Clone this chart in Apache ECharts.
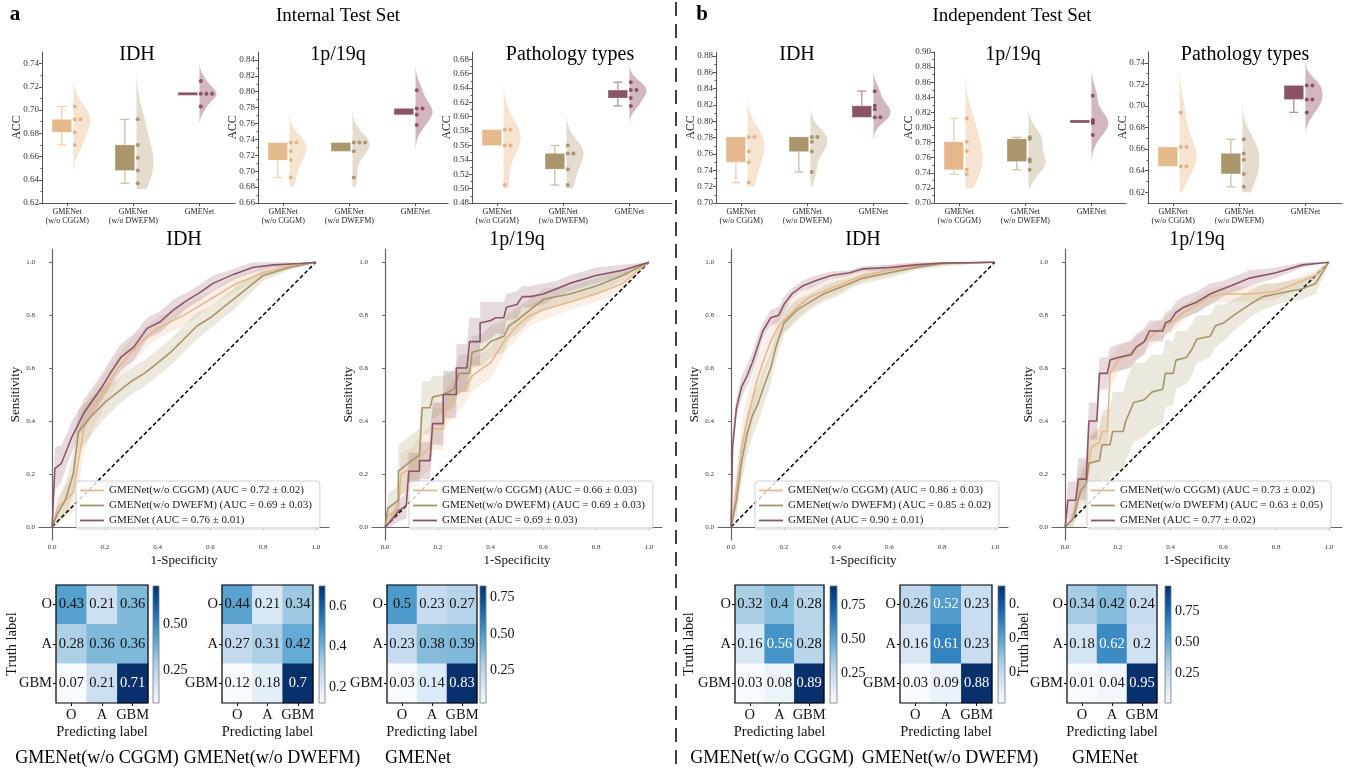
<!DOCTYPE html>
<html><head><meta charset="utf-8">
<script src="https://cdn.jsdelivr.net/npm/echarts@6/dist/echarts.min.js"></script>
<style>html,body{margin:0;padding:0;background:#fff}#c{width:1347px;height:772px}</style>
</head><body><div id="c"></div>
<script>
// ================= DATA =================
const accGroups = ['GMENet\n(w/o CGGM)', 'GMENet\n(w/o DWEFM)', 'GMENet'];
// ACC per fold (dots), box stats [whiskerLow, q1, q3, whiskerHigh], violin extent [low, high]
const intIDH_dots = [[0.670,0.681,0.692,0.692,0.703],[0.637,0.648,0.659,0.670,0.692],[0.703,0.714,0.714,0.714,0.725]];
const intIDH_box = [[0.670,0.681,0.692,0.703],[0.637,0.648,0.670,0.692],[0.714,0.714,0.714,0.714]];
const intIDH_violin = [[0.647,0.727],[0.632,0.733],[0.689,0.740]];
const intIDH_ticks = [0.62,0.64,0.66,0.68,0.70,0.72,0.74];

const int1p_dots = [[0.692,0.714,0.725,0.736,0.736],[0.692,0.725,0.736,0.736,0.736],[0.758,0.771,0.779,0.779,0.802]];
const int1p_box = [[0.692,0.714,0.736,0.736],[0.725,0.725,0.736,0.736],[0.771,0.771,0.779,0.779]];
const int1p_violin = [[0.680,0.773],[0.680,0.776],[0.728,0.832]];
const int1p_ticks = [0.66,0.68,0.70,0.72,0.74,0.76,0.78,0.80,0.82,0.84];

const intPat_dots = [[0.505,0.560,0.560,0.582,0.582],[0.505,0.527,0.549,0.549,0.560],[0.615,0.626,0.637,0.637,0.648]];
const intPat_box = [[0.560,0.560,0.582,0.582],[0.505,0.527,0.549,0.560],[0.615,0.626,0.637,0.648]];
const intPat_violin = [[0.500,0.645],[0.500,0.602],[0.593,0.672]];
const intPat_ticks = [0.48,0.50,0.52,0.54,0.56,0.58,0.60,0.62,0.64,0.66,0.68];

const indIDH_dots = [[0.725,0.750,0.763,0.781,0.781],[0.738,0.763,0.775,0.781,0.781],[0.805,0.805,0.815,0.819,0.837]];
const indIDH_box = [[0.725,0.750,0.781,0.781],[0.738,0.763,0.781,0.781],[0.805,0.805,0.819,0.837]];
const indIDH_violin = [[0.720,0.829],[0.720,0.818],[0.778,0.860]];
const indIDH_ticks = [0.70,0.72,0.74,0.76,0.78,0.80,0.82,0.84,0.86,0.88];

const ind1p_dots = [[0.738,0.744,0.769,0.781,0.812],[0.744,0.755,0.758,0.785,0.787],[0.790,0.806,0.808,0.810,0.842]];
const ind1p_box = [[0.738,0.744,0.781,0.812],[0.744,0.755,0.785,0.787],[0.808,0.808,0.808,0.808]];
const ind1p_violin = [[0.720,0.870],[0.720,0.825],[0.754,0.877]];
const ind1p_ticks = [0.70,0.72,0.74,0.76,0.78,0.80,0.82,0.84,0.86,0.88,0.90];

const indPat_dots = [[0.644,0.644,0.662,0.662,0.694],[0.625,0.637,0.650,0.656,0.669],[0.694,0.706,0.706,0.719,0.719]];
const indPat_box = [[0.644,0.644,0.662,0.662],[0.625,0.637,0.656,0.669],[0.694,0.706,0.719,0.719]];
const indPat_violin = [[0.620,0.732],[0.620,0.700],[0.673,0.740]];
const indPat_ticks = [0.62,0.64,0.66,0.68,0.70,0.72,0.74];

// ROC curves: mean FPR / TPR and std band
const rocModels = ['GMENet(w/o CGGM)','GMENet(w/o DWEFM)','GMENet'];
const rocTicks = [0,0.2,0.4,0.6,0.8,1.0];

const intIDH_auc = ['0.72 ± 0.02','0.69 ± 0.03','0.76 ± 0.01'];
const intIDH_cggm_fpr = [0,0.02,0.05,0.08,0.1,0.12,0.15,0.2,0.25,0.3,0.35,0.4,0.5,0.6,0.7,0.8,0.9,1];
const intIDH_cggm_tpr = [0,0.07,0.1,0.13,0.25,0.37,0.43,0.52,0.6,0.66,0.71,0.75,0.8,0.86,0.92,0.96,0.985,1];
const intIDH_cggm_sd  = [0,0.05,0.06,0.08,0.1,0.09,0.07,0.06,0.05,0.05,0.04,0.04,0.04,0.03,0.03,0.02,0.01,0];
const intIDH_dwefm_fpr = [0,0.02,0.05,0.08,0.1,0.15,0.2,0.25,0.3,0.35,0.4,0.45,0.5,0.55,0.6,0.65,0.7,0.75,0.8,0.9,1];
const intIDH_dwefm_tpr = [0,0.05,0.1,0.2,0.36,0.42,0.47,0.51,0.55,0.58,0.62,0.66,0.71,0.76,0.79,0.83,0.87,0.91,0.95,0.98,1];
const intIDH_dwefm_sd  = [0,0.04,0.06,0.08,0.08,0.07,0.06,0.05,0.05,0.05,0.05,0.05,0.05,0.05,0.04,0.04,0.04,0.03,0.02,0.01,0];
const intIDH_gme_fpr = [0,0.01,0.035,0.055,0.075,0.1,0.12,0.155,0.19,0.22,0.26,0.31,0.36,0.41,0.46,0.51,0.56,0.61,0.69,0.76,0.84,0.94,1];
const intIDH_gme_tpr = [0,0.22,0.24,0.29,0.34,0.39,0.43,0.48,0.53,0.58,0.64,0.68,0.75,0.775,0.82,0.855,0.885,0.92,0.955,0.98,0.99,0.995,1];
const intIDH_gme_sd  = [0,0.08,0.07,0.06,0.06,0.05,0.05,0.05,0.05,0.05,0.05,0.05,0.04,0.04,0.04,0.03,0.03,0.03,0.02,0.02,0.01,0.01,0];

const int1p_auc = ['0.66 ± 0.03','0.69 ± 0.03','0.69 ± 0.03'];
const int1p_cggm_fpr = [0,0.01,0.05,0.06,0.1,0.12,0.15,0.17,0.18,0.22,0.23,0.27,0.3,0.33,0.37,0.4,0.45,0.5,0.55,0.6,0.7,0.8,0.9,1];
const int1p_cggm_tpr = [0,0.04,0.07,0.2,0.22,0.25,0.28,0.3,0.37,0.37,0.45,0.5,0.52,0.57,0.6,0.62,0.7,0.76,0.8,0.82,0.85,0.88,0.92,1];
const int1p_cggm_sd  = [0,0.03,0.04,0.08,0.08,0.08,0.08,0.08,0.08,0.08,0.07,0.07,0.06,0.06,0.06,0.06,0.05,0.05,0.04,0.04,0.03,0.03,0.03,0];
const int1p_dwefm_fpr = [0,0.01,0.05,0.05,0.1,0.13,0.14,0.17,0.18,0.22,0.26,0.28,0.32,0.33,0.37,0.4,0.45,0.47,0.5,0.55,0.6,0.7,0.8,0.9,1];
const int1p_dwefm_tpr = [0,0.07,0.1,0.21,0.25,0.27,0.45,0.45,0.49,0.5,0.52,0.58,0.58,0.66,0.67,0.7,0.72,0.76,0.78,0.82,0.86,0.88,0.91,0.95,1];
const int1p_dwefm_sd  = [0,0.05,0.06,0.1,0.1,0.1,0.1,0.1,0.08,0.07,0.07,0.07,0.07,0.06,0.06,0.06,0.06,0.05,0.05,0.04,0.04,0.03,0.03,0.02,0];
const int1p_gme_fpr = [0,0.02,0.05,0.08,0.09,0.13,0.13,0.17,0.18,0.22,0.22,0.27,0.27,0.31,0.32,0.36,0.36,0.4,0.42,0.45,0.46,0.5,0.52,0.55,0.6,0.65,0.7,0.8,0.9,1];
const int1p_gme_tpr = [0,0.02,0.06,0.08,0.21,0.21,0.25,0.25,0.39,0.39,0.5,0.5,0.6,0.6,0.7,0.7,0.77,0.78,0.79,0.79,0.83,0.84,0.87,0.87,0.88,0.9,0.92,0.95,0.97,1];
const int1p_gme_sd  = [0,0.02,0.04,0.05,0.07,0.07,0.07,0.07,0.08,0.08,0.09,0.09,0.09,0.09,0.09,0.09,0.08,0.07,0.06,0.06,0.05,0.05,0.04,0.04,0.04,0.03,0.03,0.03,0.02,0];

const indIDH_auc = ['0.86 ± 0.03','0.85 ± 0.02','0.90 ± 0.01'];
const indIDH_cggm_fpr = [0,0.02,0.04,0.06,0.08,0.1,0.12,0.15,0.18,0.2,0.25,0.3,0.35,0.4,0.5,0.6,0.7,0.8,1];
const indIDH_cggm_tpr = [0,0.15,0.3,0.4,0.48,0.56,0.62,0.7,0.76,0.78,0.83,0.87,0.89,0.91,0.95,0.97,0.985,0.995,1];
const indIDH_cggm_sd  = [0,0.08,0.1,0.1,0.09,0.08,0.07,0.06,0.05,0.05,0.04,0.04,0.03,0.03,0.02,0.02,0.01,0.01,0];
const indIDH_dwefm_fpr = [0,0.02,0.04,0.06,0.08,0.1,0.12,0.15,0.17,0.2,0.25,0.3,0.35,0.4,0.45,0.5,0.6,0.7,0.8,1];
const indIDH_dwefm_tpr = [0,0.1,0.25,0.35,0.42,0.46,0.52,0.6,0.68,0.77,0.82,0.85,0.88,0.9,0.92,0.94,0.96,0.98,0.995,1];
const indIDH_dwefm_sd  = [0,0.06,0.08,0.08,0.08,0.07,0.07,0.06,0.05,0.04,0.04,0.03,0.03,0.03,0.02,0.02,0.02,0.01,0.01,0];
const indIDH_gme_fpr = [0,0.005,0.02,0.04,0.06,0.08,0.1,0.12,0.15,0.18,0.2,0.23,0.27,0.32,0.38,0.45,0.5,0.6,0.7,0.8,1];
const indIDH_gme_tpr = [0,0.3,0.45,0.53,0.57,0.62,0.68,0.74,0.79,0.8,0.84,0.88,0.91,0.93,0.95,0.96,0.975,0.98,0.99,0.997,1];
const indIDH_gme_sd  = [0,0.05,0.04,0.04,0.04,0.04,0.04,0.03,0.03,0.03,0.03,0.02,0.02,0.02,0.015,0.01,0.01,0.01,0.01,0.005,0];

const ind1p_auc = ['0.73 ± 0.02','0.63 ± 0.05','0.77 ± 0.02'];
const ind1p_cggm_fpr = [0,0.03,0.05,0.08,0.1,0.13,0.14,0.16,0.17,0.2,0.25,0.3,0.35,0.4,0.45,0.5,0.55,0.6,0.7,0.8,0.9,0.95,1];
const ind1p_cggm_tpr = [0,0.03,0.16,0.2,0.3,0.32,0.36,0.36,0.58,0.63,0.66,0.7,0.74,0.77,0.81,0.84,0.87,0.88,0.88,0.89,0.93,0.95,1];
const ind1p_cggm_sd  = [0,0.03,0.05,0.06,0.06,0.06,0.06,0.06,0.06,0.05,0.05,0.04,0.04,0.04,0.03,0.03,0.03,0.03,0.03,0.03,0.02,0.02,0];
const ind1p_dwefm_fpr = [0,0.03,0.06,0.08,0.09,0.13,0.14,0.17,0.18,0.22,0.23,0.26,0.3,0.33,0.37,0.38,0.41,0.42,0.46,0.48,0.5,0.55,0.57,0.6,0.64,0.7,0.75,0.8,0.9,0.95,1];
const ind1p_dwefm_tpr = [0,0.03,0.14,0.16,0.24,0.25,0.31,0.31,0.36,0.36,0.4,0.47,0.48,0.51,0.52,0.58,0.58,0.63,0.64,0.67,0.71,0.72,0.76,0.77,0.8,0.84,0.87,0.88,0.9,0.92,1];
const ind1p_dwefm_sd  = [0,0.03,0.06,0.08,0.1,0.12,0.13,0.14,0.15,0.15,0.15,0.15,0.14,0.14,0.13,0.13,0.12,0.11,0.1,0.1,0.09,0.08,0.08,0.07,0.06,0.05,0.05,0.04,0.04,0.04,0];
const ind1p_gme_fpr = [0,0.01,0.04,0.05,0.08,0.09,0.12,0.13,0.16,0.17,0.2,0.25,0.27,0.3,0.32,0.37,0.38,0.4,0.42,0.45,0.5,0.55,0.6,0.65,0.7,0.8,0.9,1];
const ind1p_gme_tpr = [0,0.1,0.1,0.18,0.18,0.4,0.4,0.58,0.58,0.63,0.64,0.65,0.68,0.7,0.74,0.74,0.77,0.78,0.81,0.83,0.85,0.88,0.9,0.92,0.94,0.96,0.99,1];
const ind1p_gme_sd  = [0,0.07,0.07,0.08,0.08,0.07,0.07,0.06,0.06,0.05,0.05,0.05,0.05,0.05,0.04,0.04,0.04,0.04,0.04,0.04,0.04,0.04,0.03,0.03,0.03,0.02,0.01,0];

// Confusion matrices (rows = truth O, A, GBM; cols = predicted O, A, GBM)
const cmLabels = ['O','A','GBM'];
const cmInt_cggm  = [[0.43,0.21,0.36],[0.28,0.36,0.36],[0.07,0.21,0.71]];
const cmInt_dwefm = [[0.44,0.21,0.34],[0.27,0.31,0.42],[0.12,0.18,0.7]];
const cmInt_gme   = [[0.5,0.23,0.27],[0.23,0.38,0.39],[0.03,0.14,0.83]];
const cmInd_cggm  = [[0.32,0.4,0.28],[0.16,0.56,0.28],[0.03,0.08,0.89]];
const cmInd_dwefm = [[0.26,0.52,0.23],[0.16,0.61,0.23],[0.03,0.09,0.88]];
const cmInd_gme   = [[0.34,0.42,0.24],[0.18,0.62,0.2],[0.01,0.04,0.95]];
const cbTicksA1 = [0.25,0.50];
const cbTicksA2 = [0.2,0.4,0.6];
const cbTicks3 = [0.25,0.50,0.75];

// ================= STYLE / LAYOUT =================
const serif = '"Liberation Serif","Times New Roman",serif';
const boxColors = ['#E6B98C','#A9966C','#8B5466'];
const whiskColors = ['#EDD0B3','#CBBFA5','#B48E9B'];
const vioColors = ['#F6E3D0','#E4DCCD','#D2B7C0'];
const dotColors = ['#DDB083','#A38E65','#84485B'];
const lineColors = ['#E5B88C','#A8946A','#8C5566'];
const blues = ['#f7fbff','#deebf7','#c6dbef','#9ecae1','#6baed6','#4292c6','#2171b5','#08519c','#08306b'];

const option = {animation:false, backgroundColor:'#fff', grid:[], xAxis:[], yAxis:[], series:[], visualMap:[], legend:[], graphic:[]};
function addGrid(g){ option.grid.push(Object.assign({containLabel:false, outerBoundsMode:'none'}, g)); return option.grid.length-1; }
function addX(a){ option.xAxis.push(a); return option.xAxis.length-1; }
function addY(a){ option.yAxis.push(a); return option.yAxis.length-1; }
function txt(text, x, y, size, extra){
  option.graphic.push({type:'text', x:x, y:y, silent:true, z:100,
    style:Object.assign({text:text, fontSize:size, fontFamily:serif, fill:'#000', align:'center', verticalAlign:'middle'}, extra||{})});
}

// ---------- violin / box panels ----------
const UNIT = 63;
function kdeVal(vals, t){
  const n = vals.length, m = vals.reduce((a,b)=>a+b,0)/n;
  let sd = Math.sqrt(vals.reduce((a,b)=>a+(b-m)*(b-m),0)/(n-1));
  if (sd < 1e-6) sd = 0.005;
  const bw = sd*Math.pow(n,-0.2);
  return vals.reduce((a,v)=>a+Math.exp(-0.5*((t-v)/bw)*((t-v)/bw)),0);
}
function violinPanel(cfg){
  const w = cfg.right - cfg.left;
  const gi = addGrid({left:cfg.left, top:52, width:w, height:151});
  const xmax = w/UNIT;
  const labPos = [0.4,1.45,2.5];
  const xi = addX({gridIndex:gi, type:'value', min:0, max:xmax,
    axisLine:{show:true, lineStyle:{color:'#555', width:1}},
    axisTick:{show:true, customValues:labPos, length:3, lineStyle:{color:'#555'}},
    axisLabel:{show:true, customValues:labPos, formatter:v=>accGroups[Math.round(v-0.4)], fontSize:8, lineHeight:9, fontFamily:serif, color:'#222', margin:4},
    splitLine:{show:false}});
  const minors = cfg.ticks.slice(0,-1).map((t,i)=>(t+cfg.ticks[i+1])/2);
  const yi = addY({gridIndex:gi, type:'value', min:cfg.min, max:cfg.max, position:'left',
    name:'ACC', nameLocation:'middle', nameGap:19, nameMoveOverlap:false, nameTextStyle:{fontSize:11.5, fontFamily:serif, color:'#222'},
    axisLine:{show:true, lineStyle:{color:'#555', width:1}},
    axisTick:{show:true, customValues:cfg.ticks, length:3, lineStyle:{color:'#555'}},
    axisLabel:{show:true, customValues:cfg.ticks, formatter:v=>v.toFixed(2), fontSize:9, fontFamily:serif, color:'#333', margin:3},
    splitLine:{show:false}});
  addY({gridIndex:gi, type:'value', min:cfg.min, max:cfg.max, position:'left',
    axisLine:{show:false}, axisTick:{show:true, customValues:minors, length:1.5, lineStyle:{color:'#555'}},
    axisLabel:{show:false}, splitLine:{show:false}});
  // violins
  option.series.push({type:'custom', xAxisIndex:xi, yAxisIndex:yi, silent:true, z:1,
    data:[[0,cfg.vio[0][0]],[1,cfg.vio[1][0]],[2,cfg.vio[2][0]]],
    renderItem:(p, api)=>{
      const g = api.value(0), vals = cfg.dots[g], lo = cfg.vio[g][0], hi = cfg.vio[g][1];
      const N = 60, ds = [];
      for (let k=0;k<=N;k++){ const t = lo+(hi-lo)*k/N; ds.push([t, kdeVal(vals,t)]); }
      const dmax = Math.max(...ds.map(d=>d[1]));
      const base = g+0.5, pts = [];
      ds.forEach(d=>pts.push(api.coord([base + 0.27*d[1]/dmax, d[0]])));
      pts.push(api.coord([base, hi])); pts.push(api.coord([base, lo]));
      return {type:'polygon', shape:{points:pts}, style:{fill:vioColors[g]}};
    }});
  // boxes
  option.series.push({type:'custom', xAxisIndex:xi, yAxisIndex:yi, silent:true, z:2,
    data:[[0,cfg.box[0][1]],[1,cfg.box[1][1]],[2,cfg.box[2][1]]],
    renderItem:(p, api)=>{
      const g = api.value(0), b = cfg.box[g];
      const c = g+0.315, l = g+0.16, r = g+0.47;
      const children = [];
      const ws = {stroke:whiskColors[g], lineWidth:1.3};
      if (b[0] < b[1]){
        const a1 = api.coord([c,b[0]]), a2 = api.coord([c,b[1]]);
        children.push({type:'line', shape:{x1:a1[0],y1:a1[1],x2:a2[0],y2:a2[1]}, style:ws});
        const k1 = api.coord([c-0.07,b[0]]), k2 = api.coord([c+0.07,b[0]]);
        children.push({type:'line', shape:{x1:k1[0],y1:k1[1],x2:k2[0],y2:k2[1]}, style:ws});
      }
      if (b[3] > b[2]){
        const a1 = api.coord([c,b[2]]), a2 = api.coord([c,b[3]]);
        children.push({type:'line', shape:{x1:a1[0],y1:a1[1],x2:a2[0],y2:a2[1]}, style:ws});
        const k1 = api.coord([c-0.07,b[3]]), k2 = api.coord([c+0.07,b[3]]);
        children.push({type:'line', shape:{x1:k1[0],y1:k1[1],x2:k2[0],y2:k2[1]}, style:ws});
      }
      const tl = api.coord([l,b[2]]), br = api.coord([r,b[1]]);
      let h = br[1]-tl[1], y = tl[1];
      if (h < 3){ y = (tl[1]+br[1])/2 - 1.5; h = 3; }
      children.push({type:'rect', shape:{x:tl[0], y:y, width:br[0]-tl[0], height:h}, style:{fill:boxColors[g], stroke:'rgba(255,255,255,0.4)', lineWidth:0.5}});
      return {type:'group', children:children};
    }});
  // dots
  [0,1,2].forEach(g=>{
    const seen = {}, data = [];
    cfg.dots[g].forEach(v=>{ const k=v.toFixed(3); const idx=seen[k]||0; seen[k]=idx+1; data.push([g+0.52+idx*0.09, v]); });
    option.series.push({type:'scatter', xAxisIndex:xi, yAxisIndex:yi, silent:true, z:3, symbolSize:4, data:data, itemStyle:{color:dotColors[g], opacity:0.9}});
  });
  txt(cfg.title, cfg.tx, 55, 20);
}
violinPanel({title:'IDH', tx:137, left:42, right:235, min:0.62, max:0.75, ticks:intIDH_ticks, dots:intIDH_dots, box:intIDH_box, vio:intIDH_violin});
violinPanel({title:'1p/19q', tx:338, left:258, right:448, min:0.66, max:0.85, ticks:int1p_ticks, dots:int1p_dots, box:int1p_box, vio:int1p_violin});
violinPanel({title:'Pathology types', tx:570, left:472, right:672, min:0.48, max:0.69, ticks:intPat_ticks, dots:intPat_dots, box:intPat_box, vio:intPat_violin});
violinPanel({title:'IDH', tx:797, left:716, right:908, min:0.70, max:0.885, ticks:indIDH_ticks, dots:indIDH_dots, box:indIDH_box, vio:indIDH_violin});
violinPanel({title:'1p/19q', tx:1013, left:934, right:1126, min:0.70, max:0.90, ticks:ind1p_ticks, dots:ind1p_dots, box:ind1p_box, vio:ind1p_violin});
violinPanel({title:'Pathology types', tx:1245, left:1148, right:1342, min:0.61, max:0.75, ticks:indPat_ticks, dots:indPat_dots, box:indPat_box, vio:indPat_violin});

// ---------- ROC panels ----------
function rocPanel(cfg){
  const gi = addGrid({left:cfg.left, top:249, width:290, height:291});
  const xi = addX({gridIndex:gi, type:'value', min:-0.05, max:1.05,
    name:'1-Specificity', nameLocation:'middle', nameGap:14, nameTextStyle:{fontSize:13, fontFamily:serif, color:'#111'},
    axisLine:{show:true, lineStyle:{color:'#666', width:1.2}},
    axisTick:{show:true, customValues:rocTicks, length:3, lineStyle:{color:'#666'}},
    axisLabel:{show:true, customValues:rocTicks, formatter:v=>v.toFixed(1), fontSize:7, fontFamily:serif, color:'#333', margin:4},
    splitLine:{show:false}});
  const yi = addY({gridIndex:gi, type:'value', min:-0.05, max:1.05,
    name:'Sensitivity', nameLocation:'middle', nameGap:17, nameTextStyle:{fontSize:13, fontFamily:serif, color:'#111'},
    axisLine:{show:true, lineStyle:{color:'#666', width:1.2}},
    axisTick:{show:true, customValues:rocTicks, length:3, lineStyle:{color:'#666'}},
    axisLabel:{show:true, customValues:rocTicks, formatter:v=>v.toFixed(1), fontSize:7, fontFamily:serif, color:'#333', margin:4},
    splitLine:{show:false}});
  const names = [];
  cfg.curves.forEach((cv, m)=>{
    const fpr = cv[0], tpr = cv[1], sd = cv[2];
    option.series.push({type:'custom', xAxisIndex:xi, yAxisIndex:yi, silent:true, z:1, data:[[fpr[0],tpr[0]]],
      renderItem:(p, api)=>{
        const up=[], dn=[];
        for (let i=0;i<fpr.length;i++){
          up.push(api.coord([fpr[i], Math.min(1, tpr[i]+sd[i])]));
          dn.push(api.coord([fpr[i], Math.max(0, tpr[i]-sd[i])]));
        }
        return {type:'polygon', shape:{points:up.concat(dn.reverse())}, style:{fill:lineColors[m], opacity:0.22}};
      }});
  });
  option.series.push({type:'line', xAxisIndex:xi, yAxisIndex:yi, silent:true, z:2, symbol:'none', data:[[0,0],[1,1]],
    lineStyle:{color:'#000', width:1.5, type:[4,2.5]}});
  cfg.curves.forEach((cv, m)=>{
    const fpr = cv[0], tpr = cv[1];
    const name = (m===2 ? 'GMENet' : rocModels[m]) + ' (AUC = ' + cfg.auc[m] + ')';
    names.push(name);
    option.series.push({type:'line', name:name, xAxisIndex:xi, yAxisIndex:yi, silent:true, z:3, symbol:'none', showSymbol:false,
      data:fpr.map((x,i)=>[x,tpr[i]]), lineStyle:{color:lineColors[m], width:1.6}, itemStyle:{color:lineColors[m]}});
  });
  option.legend.push({data:names, left:cfg.legLeft, top:481, orient:'vertical', selectedMode:false,
    icon:'rect', itemWidth:24, itemHeight:1.8, itemGap:4, padding:[4,8,3,4],
    backgroundColor:'rgba(255,255,255,0.8)', borderColor:'#d0d0d0', borderWidth:1, borderRadius:3,
    textStyle:{fontSize:11, fontFamily:serif, color:'#222'}});
  txt(cfg.title, cfg.tx, 240, 20);
}
rocPanel({title:'IDH', tx:184, left:39, legLeft:76, auc:intIDH_auc,
  curves:[[intIDH_cggm_fpr,intIDH_cggm_tpr,intIDH_cggm_sd],[intIDH_dwefm_fpr,intIDH_dwefm_tpr,intIDH_dwefm_sd],[intIDH_gme_fpr,intIDH_gme_tpr,intIDH_gme_sd]]});
rocPanel({title:'1p/19q', tx:517, left:372, legLeft:409, auc:int1p_auc,
  curves:[[int1p_cggm_fpr,int1p_cggm_tpr,int1p_cggm_sd],[int1p_dwefm_fpr,int1p_dwefm_tpr,int1p_dwefm_sd],[int1p_gme_fpr,int1p_gme_tpr,int1p_gme_sd]]});
rocPanel({title:'IDH', tx:863, left:718, legLeft:755, auc:indIDH_auc,
  curves:[[indIDH_cggm_fpr,indIDH_cggm_tpr,indIDH_cggm_sd],[indIDH_dwefm_fpr,indIDH_dwefm_tpr,indIDH_dwefm_sd],[indIDH_gme_fpr,indIDH_gme_tpr,indIDH_gme_sd]]});
rocPanel({title:'1p/19q', tx:1197, left:1052, legLeft:1087, auc:ind1p_auc,
  curves:[[ind1p_cggm_fpr,ind1p_cggm_tpr,ind1p_cggm_sd],[ind1p_dwefm_fpr,ind1p_dwefm_tpr,ind1p_dwefm_sd],[ind1p_gme_fpr,ind1p_gme_tpr,ind1p_gme_sd]]});

// ---------- confusion matrices ----------
function cmPanel(cfg){
  const gi = addGrid({left:cfg.left, top:585, width:cfg.width, height:118});
  const xi = addX({gridIndex:gi, type:'category', data:cmLabels,
    name:'Predicting label', nameLocation:'middle', nameGap:22, nameMoveOverlap:false, nameTextStyle:{fontSize:14.5, fontFamily:serif, color:'#111'},
    axisLine:{show:false}, axisTick:{show:true, alignWithLabel:true, length:3, lineStyle:{color:'#000'}},
    axisLabel:{interval:0, fontSize:14.5, fontFamily:serif, color:'#111', margin:5}, splitLine:{show:false}});
  const yi = addY({gridIndex:gi, type:'category', data:cmLabels, inverse:true,
    name:cfg.yName ? 'Truth label' : '', nameLocation:'middle', nameGap:cfg.nameGap||30, nameMoveOverlap:false, nameTextStyle:{fontSize:14.5, fontFamily:serif, color:'#111'},
    axisLine:{show:false}, axisTick:{show:true, alignWithLabel:true, length:3, lineStyle:{color:'#000'}},
    axisLabel:{interval:0, fontSize:14.5, fontFamily:serif, color:'#111', margin:4}, splitLine:{show:false}});
  const flat = [].concat(...cfg.m);
  const mn = Math.min(...flat), mx = Math.max(...flat);
  const data = [];
  cfg.m.forEach((row,r)=>row.forEach((v,c)=>{
    data.push({value:[c,r,v], label:{color:(v-mn)/(mx-mn) > cfg.thr ? '#fff' : '#111'}});
  }));
  const si = option.series.length;
  option.series.push({type:'heatmap', xAxisIndex:xi, yAxisIndex:yi, silent:true, data:data,
    label:{show:true, formatter:p=>String(p.value[2]), fontSize:14.5, fontFamily:serif}});
  option.visualMap.push({type:'continuous', show:false, seriesIndex:si, dimension:2, min:mn, max:mx, inRange:{color:blues}});
  option.series.push({type:'custom', xAxisIndex:xi, yAxisIndex:yi, silent:true, z:5, data:[[0,0]],
    renderItem:(p, api)=>{
      const s = api.size([1,1]), c0 = api.coord([0,0]);
      return {type:'rect', shape:{x:c0[0]-s[0]/2, y:c0[1]-s[1]/2, width:s[0]*3, height:s[1]*3}, style:{fill:null, stroke:'#000', lineWidth:1.2}};
    }});
  // colorbar
  const cg = addGrid({left:cfg.cbLeft, top:586, width:cfg.cbWidth, height:117});
  const cx = addX({gridIndex:cg, type:'value', min:0, max:1, show:false});
  const cy = addY({gridIndex:cg, type:'value', min:mn, max:mx, position:'right',
    axisLine:{show:false}, axisTick:{show:true, customValues:cfg.cbTicks, length:3, lineStyle:{color:'#333'}},
    axisLabel:{show:true, customValues:cfg.cbTicks, formatter:cfg.cbFmt, fontSize:14, fontFamily:serif, color:'#111', margin:4},
    splitLine:{show:false}});
  option.series.push({type:'custom', xAxisIndex:cx, yAxisIndex:cy, silent:true, data:[[0,mn]],
    renderItem:(p, api)=>{
      const a = api.coord([0,mx]), b = api.coord([1,mn]);
      return {type:'rect', shape:{x:a[0], y:a[1], width:b[0]-a[0], height:b[1]-a[1]},
        style:{fill:{type:'linear', x:0, y:1, x2:0, y2:0, colorStops:blues.map((c,i)=>({offset:i/(blues.length-1), color:c}))}, stroke:'#777', lineWidth:0.8}};
    }});
  txt(cfg.name, cfg.nameX, 758, 18);
}
const f2 = v=>v.toFixed(2), f1 = v=>v.toFixed(1), fDot = v=>'0.';
cmPanel({m:cmInt_cggm, left:56, width:92, cbLeft:153, cbWidth:6, cbTicks:cbTicksA1, cbFmt:f2, thr:0.6, yName:true, nameGap:36, name:'GMENet(w/o CGGM)', nameX:97});
cmPanel({m:cmInt_dwefm, left:222, width:91, cbLeft:319, cbWidth:6, cbTicks:cbTicksA2, cbFmt:f1, thr:0.6, name:'GMENet(w/o DWEFM)', nameX:272});
cmPanel({m:cmInt_gme, left:387, width:90, cbLeft:480, cbWidth:6, cbTicks:cbTicks3, cbFmt:f2, thr:0.6, name:'GMENet', nameX:418});
cmPanel({m:cmInd_cggm, left:735, width:89, cbLeft:830, cbWidth:7, cbTicks:cbTicks3, cbFmt:f2, thr:0.5, yName:true, nameGap:38, name:'GMENet(w/o CGGM)', nameX:772});
cmPanel({m:cmInd_dwefm, left:900, width:92, cbLeft:998, cbWidth:7, cbTicks:cbTicks3, cbFmt:fDot, thr:0.5, name:'GMENet(w/o DWEFM)', nameX:950});
cmPanel({m:cmInd_gme, left:1067, width:90, cbLeft:1165, cbWidth:6, cbTicks:cbTicks3, cbFmt:f2, thr:0.5, yName:true, nameGap:35, name:'GMENet', nameX:1105});

// ---------- headings & divider ----------
txt('a', 15, 15, 21, {fontWeight:'bold'});
txt('b', 702, 15, 21, {fontWeight:'bold'});
txt('Internal Test Set', 338, 16, 19);
txt('Independent Test Set', 1012, 16, 19);
option.graphic.push({type:'line', silent:true, z:100, shape:{x1:676, y1:2, x2:676, y2:772}, style:{stroke:'#000', lineWidth:1.5, lineDash:[14,8]}});

const chart = echarts.init(document.getElementById('c'), null, {renderer:'canvas', width:1347, height:772});
chart.setOption(option);
</script>
</body></html>
